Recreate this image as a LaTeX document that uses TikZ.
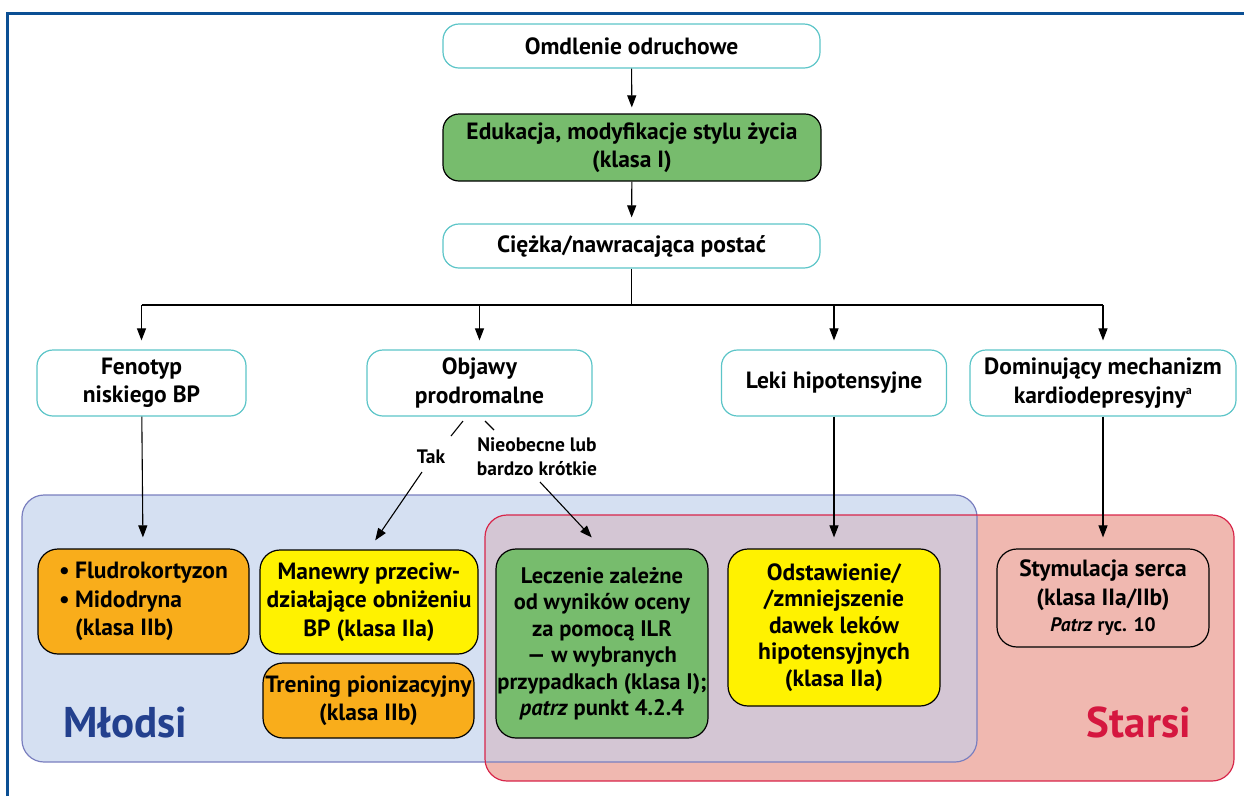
\documentclass[tikz,border=0pt]{standalone}
\usepackage{fontspec}
\setmainfont{PT Sans}
\usetikzlibrary{arrows.meta}
\definecolor{framec}{HTML}{0B4F94}
\definecolor{tealc}{HTML}{5CC5C8}
\definecolor{greenc}{HTML}{77BC6D}
\definecolor{orangec}{HTML}{F9AD1B}
\definecolor{yellowc}{HTML}{FFF200}
\definecolor{bluefill}{HTML}{D5E0F2}
\definecolor{blueline}{HTML}{7A7FBF}
\definecolor{redfill}{HTML}{F0B8B0}
\definecolor{redline}{HTML}{D8264A}
\definecolor{overlapc}{HTML}{D4C6D4}
\definecolor{mlodc}{HTML}{23408E}
\definecolor{starc}{HTML}{D5173F}
\begin{document}
\begin{tikzpicture}[x=1pt,y=-1pt,
  txt/.style={font=\fontsize{23.5}{28.5}\selectfont\bfseries, align=center, inner sep=0pt},
  tealbox/.style={txt, draw=tealc, line width=1.2pt, rounded corners=16pt, fill=white},
  blackbox/.style={txt, draw=black, line width=1.2pt, rounded corners=20pt},
  lab/.style={font=\fontsize{19.5}{24}\selectfont\bfseries, align=center, inner sep=0pt},
  big/.style={font=\fontsize{43}{43}\selectfont\bfseries, inner sep=0pt},
  arr/.style={line width=1.1pt, -{Triangle[length=12pt,width=9pt]}},
  ln/.style={line width=1.1pt}]
\useasboundingbox (0,0) rectangle (1244,796);
% outer frame
\draw[framec, line width=3pt] (7,796) -- (7,13) -- (1244,13);
% regions
\path[fill=bluefill, rounded corners=22pt] (22,495) rectangle (977,762);
\path[fill=redfill, rounded corners=22pt] (485,515) rectangle (1234,781);
\begin{scope}
  \clip[rounded corners=22pt] (22,495) rectangle (977,762);
  \path[fill=overlapc, rounded corners=22pt] (485,515) rectangle (1234,781);
\end{scope}
\draw[blueline, line width=1.2pt, rounded corners=22pt] (22,495) rectangle (977,762);
\draw[redline, line width=1.2pt, rounded corners=22pt] (485,515) rectangle (1234,781);
\node[big, text=mlodc, anchor=base west] (mlo) at (63,737) {Młodsi};
\node[big, text=starc, anchor=base east] (sta) at (1191,737) {Starsi};
% top chain
\node[tealbox, minimum width=377pt, minimum height=44pt] (om) at (631.5,46) {Omdlenie odruchowe};
\node[blackbox, fill=greenc, rounded corners=16pt, minimum width=378pt, minimum height=67pt] (edu) at (632,147.5) {Edukacja, modyfikacje stylu życia\\(klasa I)};
\node[tealbox, minimum width=377pt, minimum height=44pt] (cie) at (631.5,246) {Ciężka/nawracająca postać};
% second level
\node[tealbox, minimum width=209pt, minimum height=66pt] (fen) at (141.5,383) {Fenotyp\\niskiego BP};
\node[tealbox, minimum width=225pt, minimum height=66pt] (obj) at (479.5,383) {Objawy\\prodromalne};
\node[tealbox, minimum width=225pt, minimum height=66pt] (lek) at (834,383) {Leki hipotensyjne};
\node[tealbox, minimum width=266pt, minimum height=66pt] (dom) at (1103,383) {Dominujący mechanizm\\kardiodepresyjny\textsuperscript{\fontsize{12}{12}\selectfont a}};
% bottom boxes
\node[blackbox, fill=orangec, minimum width=211pt, minimum height=105pt, align=left] (flu) at (143.5,601.5)
  {\makebox[16pt][l]{•}Fludrokortyzon\\\makebox[16pt][l]{•}Midodryna\\\makebox[16pt][l]{}(klasa IIb)};
\node[blackbox, fill=yellowc, minimum width=218pt, minimum height=104pt] (man) at (369,602) {Manewry przeciw-\\działające obniżeniu\\BP (klasa IIa)};
\node[blackbox, fill=orangec, minimum width=211pt, minimum height=75pt] (tre) at (368.5,700.5) {Trening pionizacyjny\\(klasa IIb)};
\node[blackbox, fill=greenc, minimum width=212pt, minimum height=189pt, font=\fontsize{22.5}{26.5}\selectfont\bfseries] (lec) at (602,643.5)
  {Leczenie zależne\\od wyników oceny\\za pomocą ILR\\— w wybranych\\przypadkach (klasa I);\\\textit{patrz} punkt 4.2.4};
\node[blackbox, fill=yellowc, minimum width=212pt, minimum height=157pt, font=\fontsize{23.5}{26.5}\selectfont\bfseries] (ods) at (834,627.5)
  {Odstawienie/\\/zmniejszenie\\dawek leków\\hipotensyjnych\\(klasa IIa)};
\node[blackbox, minimum width=212pt, minimum height=98pt] (sty) at (1103,598)
  {Stymulacja serca\\(klasa IIa/IIb)\\[-2pt]{\fontsize{19.5}{24}\selectfont\textit{Patrz} ryc. 10}};
% connectors
\draw[arr, shorten >=6pt] (om) -- (edu);
\draw[arr, shorten >=6pt] (edu) -- (cie);
\coordinate (br) at (631.5,305);
\draw[ln] (cie) -- (br);
\draw[ln] (fen.north |- br) -- (dom.north |- br);
\draw[arr, shorten >=9pt] (fen.north |- br) -- (fen);
\draw[arr, shorten >=9pt] (obj.north |- br) -- (obj);
\draw[arr, shorten >=9pt] (lek.north |- br) -- (lek);
\draw[arr, shorten >=9pt] (dom.north |- br) -- (dom);
\draw[arr, shorten >=11pt] (fen) -- (flu);
\draw[arr, shorten >=11pt] (lek) -- (ods);
\draw[arr, shorten >=11pt] (dom) -- (sty);
% prodromal branches
\node[lab] (tak) at (431,457) {Tak};
\node[lab] (nie) at (537,457) {Nieobecne lub\\bardzo krótkie};
\coordinate (a1) at (463,421);
\coordinate (a2) at (451,436);
\coordinate (a3) at (422,472);
\draw[ln] (a1) -- (a2);
\draw[arr, shorten >=11pt] (a3) -- (man.north);
\coordinate (b1) at (485,421);
\coordinate (b2) at (494,430);
\coordinate (b3) at (540,482);
\draw[ln] (b1) -- (b2);
\draw[arr, shorten >=15pt] (b3) -- (lec.north);
\end{tikzpicture}
\end{document}
